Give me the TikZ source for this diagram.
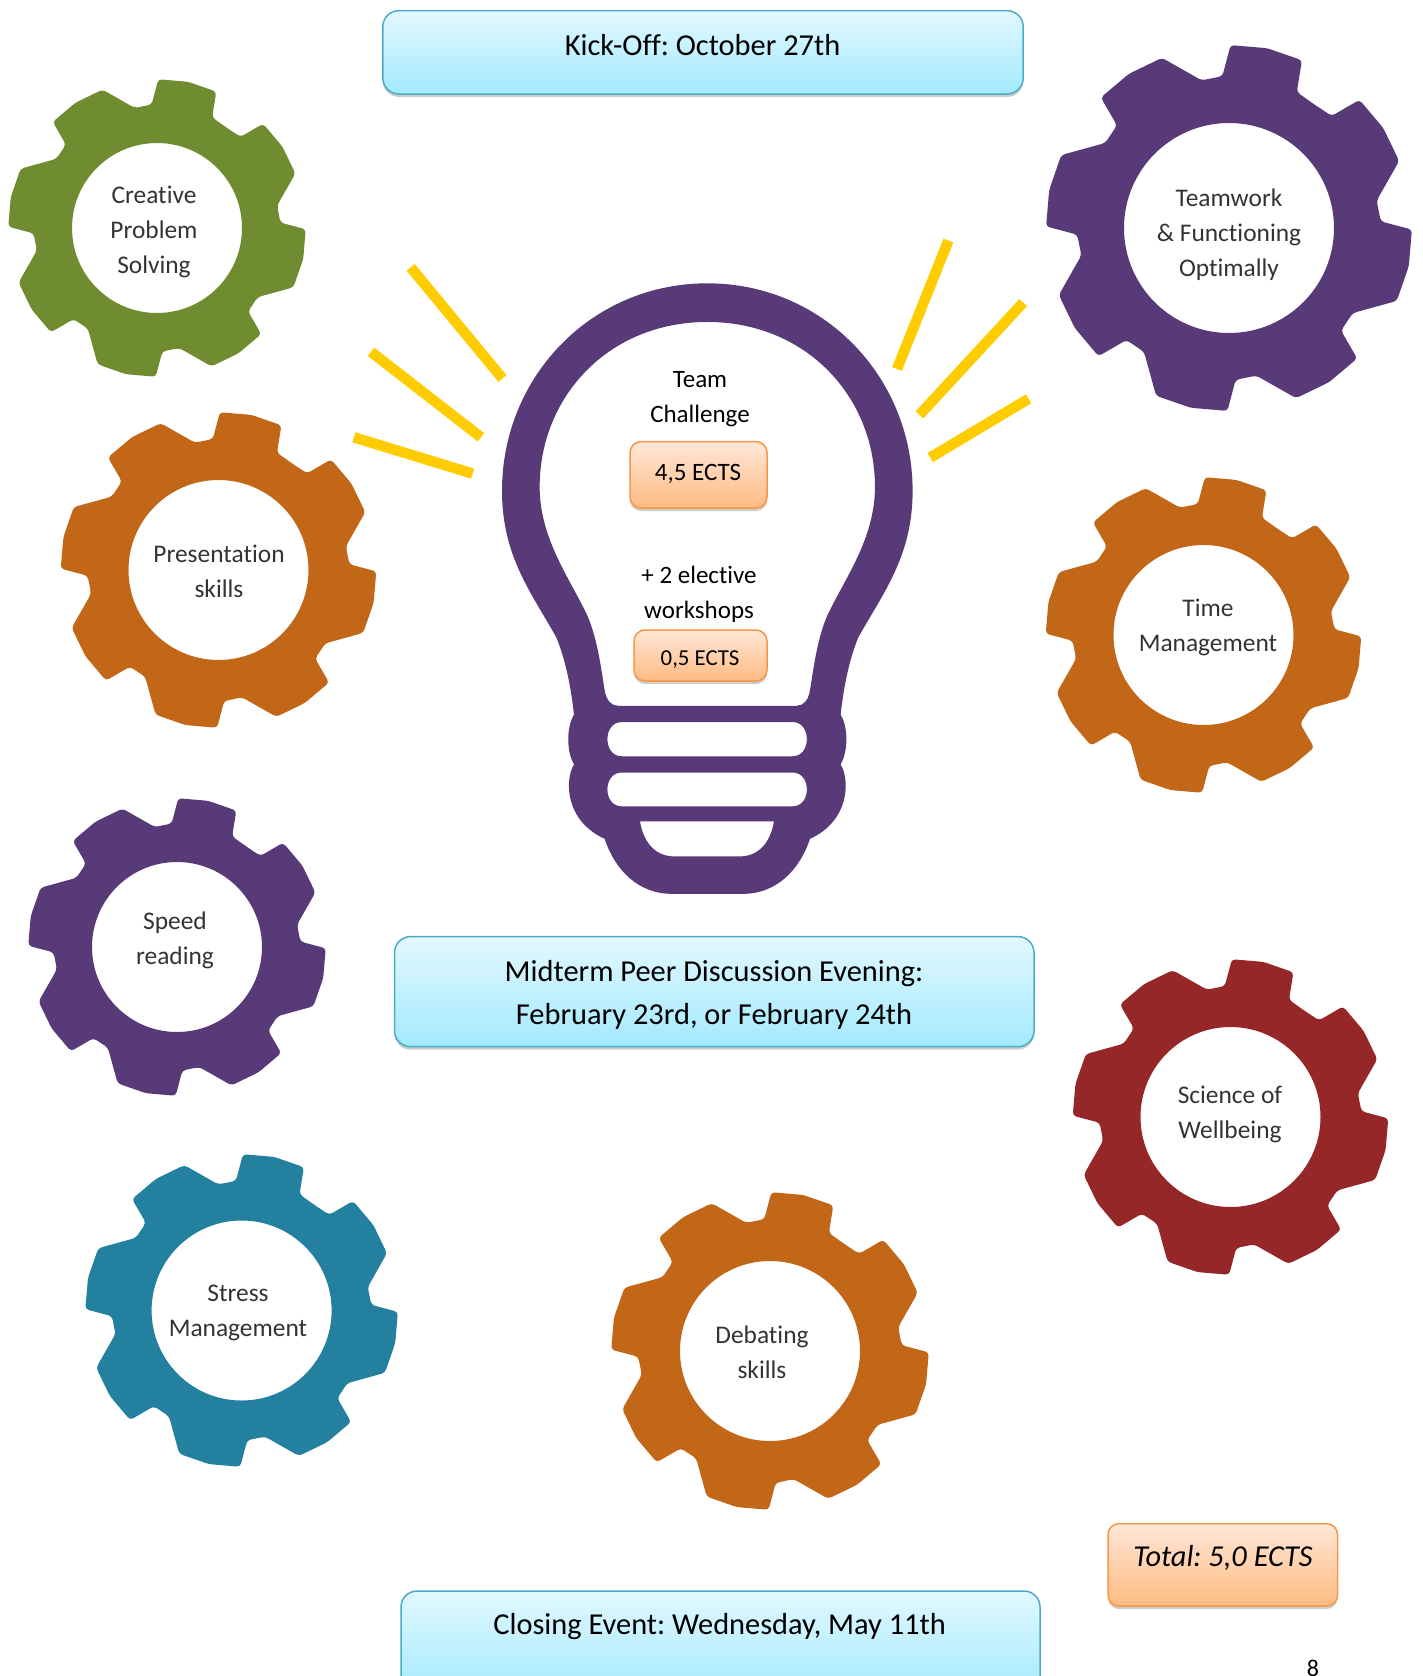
\documentclass[tikz,border=0pt]{standalone}
\usepackage{fontspec}
\setmainfont{Carlito}[Ligatures=NoCommon]
\usetikzlibrary{shadows}
\definecolor{gGreen}{HTML}{6F8C30}
\definecolor{gPurple}{HTML}{583A78}
\definecolor{gOrange}{HTML}{C26718}
\definecolor{gRed}{HTML}{952729}
\definecolor{gTeal}{HTML}{23809F}
\definecolor{rayYellow}{HTML}{FFCC00}
\definecolor{blueEdge}{HTML}{4BACC6}
\definecolor{blueTop}{HTML}{E2F8FF}
\definecolor{blueBot}{HTML}{A3EAFF}
\definecolor{orEdge}{HTML}{F79646}
\definecolor{orTop}{HTML}{FFE7D8}
\definecolor{orBot}{HTML}{FFBB82}
\definecolor{inkGear}{HTML}{333333}
\tikzset{
  softshadow/.style={drop shadow={shadow xshift=0pt,shadow yshift=-3pt,opacity=.28,fill=black!70}},
  bluebox/.style={draw=blueEdge,line width=1.5pt,rounded corners=16pt,top color=blueTop,bottom color=blueBot,softshadow,inner sep=0pt},
  orbox/.style={draw=orEdge,line width=1.5pt,rounded corners=11pt,top color=orTop,bottom color=orBot,softshadow,inner sep=0pt},
  boxtext/.style={align=center,text=black,font=\fontsize{30.4}{43}\selectfont\frenchspacing},
  totalstyle/.style={align=center,text=black,font=\fontsize{30.4}{43}\selectfont\itshape\frenchspacing},
  smalltext/.style={align=center,text=black,font=\fontsize{25}{35}\selectfont\frenchspacing},
  tinybox/.style={align=center,text=black,font=\fontsize{22.8}{33}\selectfont\frenchspacing},
  pagestyle/.style={align=center,text=black,font=\fontsize{24}{30}\selectfont},
  geartext/.style={align=center,text=inkGear,font=\fontsize{25.4}{35}\selectfont\frenchspacing},
  ray/.style={rayYellow,line width=10.5pt}
}
% centre x, centre y, outer radius, hole radius, colour
\newcommand{\gearshape}[5]{%
  \begin{scope}[shift={(#1,#2)},x=#3pt,y=#3pt]
    \fill[#5,even odd rule,rounded corners=3.5pt]
      (63.5:.835)
      \foreach \a in {78,123,168,213,258,303,348,393}{
        -- ({\a-11.5}:1.005) -- (\a:1.01) -- ({\a+11.5}:1.005) -- ({\a+14.5}:.835) -- ({\a+22.5}:.825)
      } -- cycle
      (0,0) circle ({#4/#3});
  \end{scope}%
}
% x0 x1 y0 y1 -> named box
\newcommand{\roundbox}[6]{%
  \pgfmathsetmacro\bw{#3-#2}\pgfmathsetmacro\bh{#5-#4}%
  \pgfmathsetmacro\bx{(#3+#2)/2}\pgfmathsetmacro\by{(#5+#4)/2}%
  \node[#6,minimum width=\bw pt,minimum height=\bh pt] (#1) at (\bx,\by) {};%
}
\begin{document}
\begin{tikzpicture}[x=1pt,y=-1pt]
\useasboundingbox (0,0) rectangle (1422,1676);
\clip (0,0) rectangle (1422,1676);
% gears
\gearshape{157}{228}{148}{85}{gGreen}
\gearshape{1229}{228}{182}{105}{gPurple}
\gearshape{218.5}{570}{157}{90}{gOrange}
\gearshape{1203.5}{635}{157}{90}{gOrange}
\gearshape{177}{947}{148}{85}{gPurple}
\gearshape{1230.5}{1117}{157}{90}{gRed}
\gearshape{241.6}{1310.5}{155.5}{90}{gTeal}
\gearshape{770}{1351}{158}{90}{gOrange}
\node[geartext] (creative) at (154,232) {Creative\\Problem\\Solving};
\node[geartext] (teamwork) at (1229,235) {Teamwork\\\& Functioning\\Optimally};
\node[geartext] (presentation) at (219,571.5) {Presentation\\skills};
\node[geartext] (time) at (1208,627.5) {Time\\Management};
\node[geartext] (speed) at (175,940) {Speed\\reading};
\node[geartext] (science) at (1230,1114) {Science of\\Wellbeing};
\node[geartext] (stress) at (238,1313) {Stress\\Management};
\node[geartext] (debating) at (762,1352.5) {Debating\\skills};
% rays
\draw[ray] (410.6,267.3) -- (502.5,378.5);
\draw[ray] (371,351.8) -- (481,437.3);
\draw[ray] (353.9,437.3) -- (472.6,473.6);
\draw[ray] (948.4,240.6) -- (897,368.9);
\draw[ray] (1023.2,302.6) -- (919.5,414.8);
\draw[ray] (1028.6,398.8) -- (930.2,457.6);
% bulb
\begin{scope}[shift={(480,271.1)},x=.3333pt,y=-.407pt]
\fill[gPurple,even odd rule]
  (682,30) .. controls (1030,30) and (1298,260) .. (1298,540)
  .. controls (1298,700) and (1210,790) .. (1135,900)
  .. controls (1105,960) and (1090,1030) .. (1082,1090)
  .. controls (1105,1120) and (1105,1180) .. (1082,1212)
  .. controls (1110,1250) and (1110,1350) .. (990,1395)
  .. controls (960,1470) and (890,1530) .. (790,1530)
  -- (574,1530)
  .. controls (474,1530) and (404,1470) .. (374,1395)
  .. controls (254,1350) and (254,1250) .. (282,1212)
  .. controls (259,1180) and (259,1120) .. (282,1090)
  .. controls (274,1030) and (259,960) .. (229,900)
  .. controls (154,790) and (66,700) .. (66,540)
  .. controls (66,260) and (334,30) .. (682,30) -- cycle
  (682,125) .. controls (980,125) and (1185,310) .. (1185,530)
  .. controls (1185,660) and (1090,760) .. (1040,850)
  .. controls (1010,910) and (1000,980) .. (990,1030)
  .. controls (985,1055) and (970,1068) .. (950,1068)
  -- (414,1068)
  .. controls (394,1068) and (379,1055) .. (374,1030)
  .. controls (364,980) and (354,910) .. (324,850)
  .. controls (274,760) and (179,660) .. (179,530)
  .. controls (179,310) and (384,125) .. (682,125) -- cycle
  (425,1108) -- (938,1108) .. controls (995,1108) and (995,1192) .. (938,1192)
  -- (425,1192) .. controls (368,1192) and (368,1108) .. (425,1108) -- cycle
  (425,1232) -- (938,1232) .. controls (995,1232) and (995,1315) .. (938,1315)
  -- (425,1315) .. controls (368,1315) and (368,1232) .. (425,1232) -- cycle
  (480,1352) -- (882,1352) .. controls (870,1410) and (830,1438) .. (780,1438)
  -- (582,1438) .. controls (532,1438) and (492,1410) .. (480,1352) -- cycle;
\end{scope}
% boxes
\roundbox{kick}{382.8}{1023.2}{10.7}{94}{bluebox}
\roundbox{midterm}{394.5}{1034}{936.6}{1046.7}{bluebox}
\roundbox{closing}{401}{1040}{1591}{1695}{bluebox}
\roundbox{total}{1108}{1337.5}{1523.6}{1606}{orbox}
\roundbox{ectsA}{630}{767}{441.6}{508}{orbox}
\roundbox{ectsB}{634}{767}{630}{681}{orbox}
\node[boxtext] (kicktext) at (702.5,45) {Kick-Off: October 27th};
\node[boxtext] (midtext) at (714,995) {Midterm Peer Discussion Evening:\\February 23rd, or February 24th};
\node[boxtext] (closetext) at (719.6,1627) {Closing Event: Wednesday, May 11th};
\node[totalstyle] (totaltext) at (1223,1558) {Total: 5,0 ECTS};
\node[smalltext] (teamtext) at (700,399.5) {Team\\Challenge};
\node[smalltext] (ectsAtext) at (698,473.5) {4,5 ECTS};
\node[smalltext] (electtext) at (699,594) {+ 2 elective\\workshops};
\node[tinybox] (ectsBtext) at (700,659.5) {0,5 ECTS};
\node[pagestyle] (pagenum) at (1313,1668) {8};
\end{tikzpicture}
\end{document}
